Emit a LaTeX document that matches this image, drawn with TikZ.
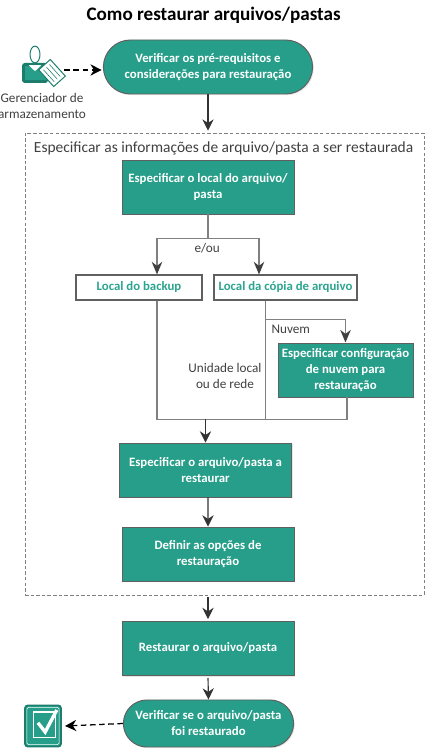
\documentclass[tikz,border=0pt]{standalone}
\usepackage{fontspec}
\setmainfont{Carlito}
\usetikzlibrary{shapes.misc, arrows.meta, positioning, calc, shadows}
\definecolor{tealbox}{HTML}{269E89}
\definecolor{tealdark}{HTML}{1C7D6C}
\definecolor{tealtext}{HTML}{2BA58F}
\definecolor{edgegray}{HTML}{606060}
\definecolor{linegray}{HTML}{808080}
\definecolor{labelgray}{HTML}{404040}
\tikzset{
  % --- Caixas ------------------------------------------------
  proc/.style={draw=edgegray, fill=tealbox, text=white, minimum width=4.3cm,
    minimum height=1.35cm, align=center, font=\fontsize{9.1}{11.4}\selectfont\bfseries,
    line width=0.7pt, inner sep=1pt, drop shadow={opacity=.2, shadow xshift=.03cm, shadow yshift=-.03cm}},
  term/.style={proc, rounded rectangle},
  place/.style={draw=edgegray, fill=white, text=tealtext, minimum height=0.625cm,
    align=center, font=\fontsize{9.1}{11.4}\selectfont\bfseries, line width=0.8pt, inner sep=1pt},
  ucsys/.style={draw=linegray, line width=0.6pt, dash pattern=on 2.5pt off 1.5pt,
    minimum width=9.975cm, minimum height=11.55cm},
  lbl/.style={text=labelgray, align=center, font=\fontsize{9.4}{11.4}\selectfont, inner sep=0pt},
  % --- Setas -------------------------------------------------
  fl/.style={-{Stealth[length=8pt, width=8pt]}, line width=0.8pt, draw=black!80},
  flg/.style={-{Stealth[length=9pt, width=7.5pt, color=black!75]}, line width=0.9pt, draw=linegray},
  fla/.style={line width=0.9pt, draw=linegray},
  fld/.style={-{Stealth[length=8pt, width=8pt]}, line width=0.9pt, dash pattern=on 4pt off 2.5pt, draw=black}
}
\begin{document}
\begin{tikzpicture}[x=1cm, y=1cm]
  \useasboundingbox (0,0) rectangle (10.625,18.75);

  \node[font=\fontsize{13.6}{16}\selectfont\bfseries, inner sep=0pt] (title) at (5.34,18.375)
    {Como restaurar arquivos/pastas};

  \node[ucsys] (group) at (5.6125,9.65) {};
  \node[lbl, font=\fontsize{11}{13}\selectfont] (grouptxt) at (5.59,15.05)
    {Especificar as informações de arquivo/pasta a ser restaurada};

  \node[term, minimum width=5.3cm] (pre) at (5.2,17.075)
    {Verificar os pré-requisitos e\\considerações para restauração};
  \node[proc] (local) at (5.2,14.075) {Especificar o local do arquivo/\\pasta};
  \node[place, minimum width=3.15cm] (backup) at (3.475,11.5625) {Local do backup};
  \node[place, minimum width=3.575cm] (copia) at (7.1375,11.5625) {Local da cópia de arquivo};
  \node[proc, minimum width=3.375cm] (nuvem) at (8.6375,9.5)
    {Especificar configuração\\de nuvem para\\restauração};
  \node[proc] (arquivo) at (5.1375,7.0) {Especificar o arquivo/pasta a\\restaurar};
  \node[proc] (opcoes) at (5.2,4.9) {Definir as opções de\\restauração};
  \node[proc] (restaurar) at (5.2,2.5375) {Restaurar o arquivo/pasta};
  \node[term, minimum width=4.325cm, minimum height=1.175cm] (verif) at (5.2125,0.6625)
    {Verificar se o arquivo/pasta\\foi restaurado};

  % --- Icone do gerenciador ---
  \node[minimum width=1.1cm, minimum height=1.1cm, inner sep=0pt] (mgr) at (1.05,17.0) {};
  \node[lbl, below=0.02cm of mgr] (mgrtxt) {Gerenciador de\\armazenamento};
  \fill[tealdark, rounded corners=2pt] (0.55,16.675) rectangle (1.2,17.175);
  \fill[tealbox] (0.62,16.75) rectangle (1.2,17.1);
  \fill[white] (0.72,17.12) -- (0.875,16.97) -- (1.03,17.12) -- cycle;
  \draw[tealdark, line width=0.7pt, fill=white] (0.875,17.3875) ellipse (0.125 and 0.21);
  \draw[tealdark, line width=0.7pt, fill=white, rotate around={-48:(1.3,16.925)}]
    (1.02,16.73) rectangle (1.58,17.12);
  \draw[tealdark, thin, rotate around={-48:(1.3,16.925)}]
    (1.1,16.82) -- (1.5,16.82) (1.1,16.92) -- (1.5,16.92) (1.1,17.02) -- (1.5,17.02);

  % --- Icone de verificacao ---
  \node[draw=tealdark, line width=1.2pt, fill=tealbox, rounded corners=2pt,
    minimum width=0.9cm, minimum height=1.03cm, inner sep=0pt] (check) at (1.075,0.6) {};
  \draw[white, thin, rounded corners=1pt] ([shift={(0.07,0.07)}]check.south west)
    rectangle ([shift={(-0.07,-0.07)}]check.north east);
  \draw[white, thick] (0.83,0.32) rectangle (1.38,0.95);
  \draw[white, line width=2.4pt] (0.95,0.68) -- (1.13,0.45) -- (1.42,1.0);

  % --- Fluxo principal ---
  \draw[fld] (mgr.east) -- ([xshift=-0.03cm]mgr.east -| pre.west);
  \draw[fl] (pre.south) -- ([yshift=0.05cm]pre.south |- group.north);
  \draw[fla] (local.south) -- ++(0,-0.6) coordinate (split);
  \node[lbl] (eou) at (5.18,12.55) {e/ou};
  \draw[flg] (split) -| ([xshift=0.45cm]backup.north);
  \draw[flg] (split) -| ([xshift=-0.6625cm]copia.north);

  % --- Juncao ---
  \coordinate (merge) at (5.1375,8.27);
  \draw[fla] ([xshift=0.45cm]backup.south) |- (merge);
  \draw[fla] ([xshift=-0.5cm]copia.south) |- (merge);
  \coordinate (cloudsplit) at ($(copia.south)+(-0.5,-0.47)$);
  \draw[flg] (cloudsplit) -| (nuvem.north);
  \draw[fla] ([xshift=0.04cm]nuvem.south) |- (merge);
  \node[lbl] (nuvemtxt) at (7.27,10.5175) {Nuvem};
  \node[lbl] (unidade) at (5.625,9.35) {Unidade local\\ou de rede};
  \draw[fl] (merge) -- (arquivo.north);

  \draw[fl] ([xshift=0.0625cm]arquivo.south) -- (opcoes.north);
  \draw[fl] ([yshift=-0.05cm]restaurar.north |- group.south) -- ([yshift=0.05cm]restaurar.north);
  \draw[fl] ([yshift=-0.05cm]restaurar.south) -- (verif.north);
  \draw[fld] (verif.west) -- ([xshift=0.08cm]check.east);

\end{tikzpicture}
\end{document}
